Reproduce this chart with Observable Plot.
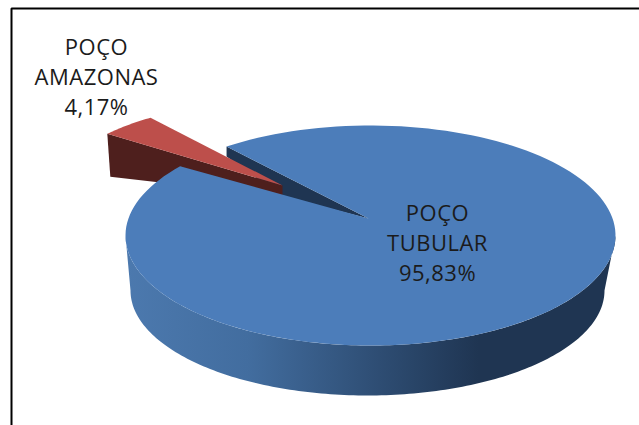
<!DOCTYPE html>
<html>
<head>
<meta charset="utf-8">
<style>html,body{margin:0;padding:0;background:#fff}svg{display:block}svg text{letter-spacing:.5px}</style>
<script src="https://cdn.jsdelivr.net/npm/d3@7"></script>
<script src="https://cdn.jsdelivr.net/npm/@observablehq/plot@0.6"></script>
</head>
<body>
<script>
const categories = ["POÇO TUBULAR", "POÇO AMAZONAS"];
const shares = [95.83, 4.17];
const labelLines = [["POÇO", "TUBULAR"], ["POÇO", "AMAZONAS"]];

const deg = Math.PI / 180;
const start = 39;
const sweep = s => s * 3.6;
const gapSweep = sweep(shares[1]);
const blueSweep = sweep(shares[0]);

const topRim = {cx: 370, cy: 235, rx: 245, ry: 110};
const lowRim = {cx: 367, cy: 290, rx: 237, ry: 105};
const redRim = {cx: 284, cy: 190, rx: 228, ry: 90};
const blueApex = [368, 218];
const redApex = [282, 185];
const redApexLow = [282, 196];

// angle measured from the left extreme of the ellipse, going up and to the right
const onRim = (r, a) => [r.cx - r.rx * Math.cos(a * deg), r.cy - r.ry * Math.sin(a * deg)];
const arc = (r, a0, a1, n = 160) => d3.range(n + 1).map(i => onRim(r, a0 + (a1 - a0) * i / n));

const gapEnd = start + gapSweep;
const blueTop = [blueApex, ...arc(topRim, gapEnd, gapEnd + blueSweep)];
const blueWall = [...arc(topRim, 180, 360), ...arc(lowRim, 360, 180)];
const gapWallTop = onRim(topRim, gapEnd);
const gapWall = [gapWallTop, blueApex, redApexLow, [gapWallTop[0], gapWallTop[1] + 10]];
const redTopArc = arc(redRim, start, gapEnd, 20);
const redTop = [redApex, ...redTopArc];
const redOuter = redTopArc[0];
const redWall = [redOuter, [redOuter[0] + 3, redOuter[1] + 43], redApexLow, redApex];

const shape = (name, pts) => pts.map(([x, y]) => ({name, x, y}));
const fills = {
  gapWall: "#1f3552",
  redWall: "#4e1f1d",
  redTop: "#bd4f4b",
  blueWall: "url(#wallGrad)",
  blueTop: "#4c7dba"
};
const polys = [
  ["blueWall", blueWall], ["gapWall", gapWall], ["redWall", redWall], ["redTop", redTop], ["blueTop", blueTop]
];

const gradient = () => {
  const defs = d3.create("svg:defs");
  const g = defs.append("linearGradient").attr("id", "wallGrad");
  [[0, "#4c79ae"], [0.25, "#426d9f"], [0.72, "#1f3552"], [1, "#1f3552"]].forEach(([o, c]) =>
    g.append("stop").attr("offset", o).attr("stop-color", c));
  return defs.node();
};

const pct = v => v.toFixed(2).replace(".", ",") + "%";
const labels = [
  {x: 437, y: 243, text: [...labelLines[0], pct(shares[0])].join("\n")},
  {x: 96, y: 77, text: [...labelLines[1], pct(shares[1])].join("\n")}
];
const frame = [{x: 11, y: 425}, {x: 11, y: 8}, {x: 639, y: 8}];

const chart = Plot.plot({
  width: 639, height: 425, margin: 0,
  x: {domain: [0, 639], range: [0, 639], axis: null},
  y: {domain: [0, 425], range: [0, 425], axis: null},
  style: {background: "#fff"},
  marks: [
    gradient,
    ...polys.map(([n, p]) => Plot.line(shape(n, p), {x: "x", y: "y", fill: fills[n], stroke: "none"})),
    Plot.line(frame, {x: "x", y: "y", stroke: "#000", strokeWidth: 2, strokeLinejoin: "miter"}),
    Plot.text(labels, {x: "x", y: "y", text: "text", fontSize: 22, lineHeight: 1.36, fill: "#1b1b1b",
      fontFamily: "'Open Sans', sans-serif", dy: -2})
  ]
});
document.body.appendChild(chart);
</script>
</body>
</html>
